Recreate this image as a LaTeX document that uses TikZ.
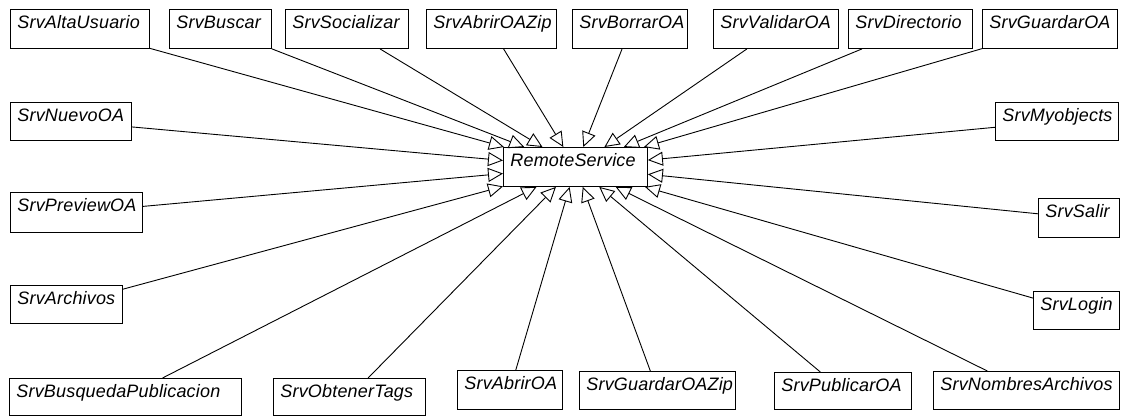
\documentclass[tikz,border=0pt]{standalone}
\usepackage{fontspec}
\newfontfamily\boxfont{Liberation Sans}[LetterSpace=1]
\usetikzlibrary{arrows.meta}
\tikzset{
  svc/.style={draw, line width=0.9pt, font=\boxfont\itshape\fontsize{18}{20}\selectfont,
    align=left, inner xsep=7pt, inner ysep=0pt, text height=19pt, text depth=20pt,
    anchor=north west},
  gen/.style={line width=0.9pt, -{Triangle[open, length=15pt, width=14pt, line width=0.9pt]}}
}
\begin{document}
\begin{tikzpicture}[x=1pt, y=-1pt]
\useasboundingbox (0,0) rectangle (1126,417);
% central node
\node[svc, text width=130pt] (rs) at (503,147) {RemoteService};
% top row
\node[svc, text width=125pt] (alta) at (10,9) {SrvAltaUsuario};
\node[svc, text width=88pt] (buscar) at (169,9) {SrvBuscar};
\node[svc, text width=109pt] (social) at (285,9) {SrvSocializar};
\node[svc, text width=116pt] (abrirzip) at (426,9) {SrvAbrirOAZip};
\node[svc, text width=101pt] (borrar) at (572,9) {SrvBorrarOA};
\node[svc, text width=111pt] (validar) at (713,9) {SrvValidarOA};
\node[svc, text width=110pt] (dir) at (848,9) {SrvDirectorio};
\node[svc, text width=121pt] (guardar) at (982,9) {SrvGuardarOA};
% left column
\node[svc, text width=107pt, text depth=19pt] (nuevo) at (10,102) {SrvNuevoOA};
\node[svc, text width=118pt, text depth=21pt] (preview) at (10,192) {SrvPreviewOA};
\node[svc, text width=98pt, text depth=19pt] (archivos) at (10,285) {SrvArchivos};
% right column
\node[svc, text width=109pt, text depth=19pt] (myobj) at (995,102) {SrvMyobjects};
\node[svc, text width=67pt] (salir) at (1038,198) {SrvSalir};
\node[svc, text width=72pt, text depth=19pt] (login) at (1033,291) {SrvLogin};
% bottom row
\node[svc, text width=218pt, text depth=18pt] (busq) at (9,378) {SrvBusquedaPublicacion};
\node[svc, text width=138pt, text depth=18pt] (tags) at (273,378) {SrvObtenerTags};
\node[svc, text width=91pt] (abrir) at (457,370) {SrvAbrirOA};
\node[svc, text width=142pt, text depth=19pt] (guardarzip) at (579,371) {SrvGuardarOAZip};
\node[svc, text width=123pt, text depth=18pt] (publicar) at (774,372) {SrvPublicarOA};
\node[svc, text width=172pt, text depth=19pt] (nombres) at (933,371) {SrvNombresArchivos};
% generalizations
\foreach \n in {alta,buscar,social,abrirzip,borrar,validar,dir,guardar,
                nuevo,preview,archivos,myobj,salir,login,
                busq,tags,abrir,guardarzip,publicar,nombres}
  \draw[gen] (\n) -- (rs);
\end{tikzpicture}
\end{document}
